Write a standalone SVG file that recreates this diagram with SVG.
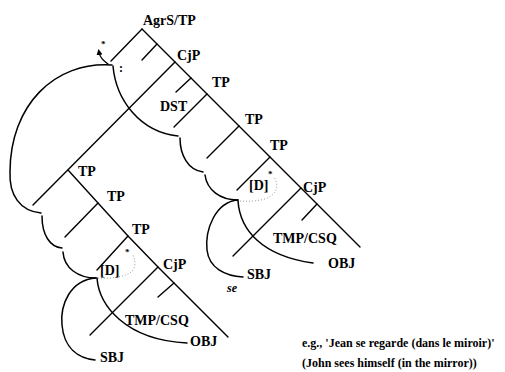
<svg xmlns="http://www.w3.org/2000/svg" width="505" height="372" viewBox="0 0 505 372">
<style>
.ln{stroke:#000;stroke-width:1.4;fill:none;stroke-linecap:round}
.arc{stroke:#000;stroke-width:1.5;fill:none;stroke-linecap:round}
.dot{stroke:#999;stroke-width:1;fill:none;stroke-dasharray:1 2}
.lb{font-family:"Liberation Serif","Times New Roman",serif;font-size:14px;font-weight:bold;fill:#000}
.it{font-family:"Liberation Serif","Times New Roman",serif;font-size:12px;font-style:italic;font-weight:bold;fill:#000}
.st{font-family:"Liberation Serif","Times New Roman",serif;font-size:9px;font-weight:bold;fill:#000}
.co{font-family:"Liberation Serif","Times New Roman",serif;font-size:12px;font-weight:bold;fill:#000}
.cap{font-family:"Liberation Serif","Times New Roman",serif;font-size:12px;font-weight:bold;fill:#000}
</style>
<defs>
<marker id="ah" markerWidth="6" markerHeight="6" refX="3" refY="3" orient="auto" markerUnits="userSpaceOnUse">
<path d="M0,0 L6,3 L0,6 Z" fill="#000"/>
</marker>
</defs>
<rect width="505" height="372" fill="#fff"/>
<g id="connectors">
<line class="ln" x1="142" y1="29" x2="360" y2="247"/>
<line class="ln" x1="142" y1="29" x2="111" y2="61"/>
<line class="ln" x1="157" y1="44" x2="142" y2="60"/>
<line class="ln" x1="175" y1="62" x2="33" y2="205"/>
<line class="ln" x1="191" y1="78" x2="176" y2="92"/>
<line class="ln" x1="207" y1="94" x2="174" y2="127"/>
<line class="ln" x1="239" y1="126" x2="207" y2="158"/>
<line class="ln" x1="270" y1="157" x2="237" y2="190"/>
<line class="ln" x1="301" y1="188" x2="233" y2="256"/>
<line class="ln" x1="317" y1="204" x2="302" y2="220"/>
<polyline class="ln" points="68,170 98,203 128,236 158,267 228,337"/>
<line class="ln" x1="98" y1="203" x2="65" y2="237"/>
<line class="ln" x1="128" y1="236" x2="97" y2="270"/>
<line class="ln" x1="158" y1="267" x2="90" y2="335"/>
<line class="ln" x1="174" y1="283" x2="158" y2="297"/>
<path class="arc" d="M112,65 C55,61 10,105 10,172 C9,195 20,211 41,213"/>
<path class="arc" d="M42,216 C42,235 50,247 62,248"/>
<path class="arc" d="M63,252 C64,268 78,278 96,278"/>
<path class="arc" d="M113,66 C116,100 140,132 178,136"/>
<path class="arc" d="M180,138 C180,155 188,170 203,172"/>
<path class="arc" d="M205,175 C207,190 220,200 238,200"/>
<path class="arc" d="M238,200 C215,202 205,230 207,250 C209,268 225,276 243,277"/>
<path class="arc" d="M238,201 C240,230 262,256 313,263"/>
<path class="arc" d="M96,278 C70,280 60,305 62,325 C64,348 78,358 95,360"/>
<path class="arc" d="M97,278 C99,305 125,340 187,343"/>
<path class="dot" d="M240,201 C255,202 272,200 276,190 C278,185 276,180 274,177"/>
<path class="dot" d="M98,278 C110,279 128,277 133,270 C136,265 135,260 133,255"/>
<path class="ln" d="M108,64 C104,61 100,58 99,52" marker-end="url(#ah)"/>
</g>
<g id="n-root"><text class="lb" x="143" y="25">AgrS/TP</text>
<text class="st" x="101" y="47">*</text>
<text class="co" x="119" y="72">:</text></g>
<g id="n-cjp1"><text class="lb" x="177" y="60">CjP</text></g>
<g id="n-tp1"><text class="lb" x="212" y="87">TP</text></g>
<g id="n-dst"><text class="lb" x="160" y="111">DST</text></g>
<g id="n-tp2"><text class="lb" x="245" y="124">TP</text></g>
<g id="n-tp3"><text class="lb" x="270" y="150">TP</text></g>
<g id="n-d1"><text class="lb" x="249" y="190">[D]</text><text class="st" x="268" y="177">*</text></g>
<g id="n-cjp2"><text class="lb" x="303" y="192">CjP</text></g>
<g id="n-tmp1"><text class="lb" x="273" y="243">TMP/CSQ</text></g>
<g id="n-obj1"><text class="lb" x="328" y="268">OBJ</text></g>
<g id="n-sbj1"><text class="lb" x="247" y="279">SBJ</text><text class="it" x="227" y="292">se</text></g>
<g id="n-tpL0"><text class="lb" x="78" y="176">TP</text></g>
<g id="n-tpL1"><text class="lb" x="107" y="201">TP</text></g>
<g id="n-tpL2"><text class="lb" x="132" y="234">TP</text></g>
<g id="n-d2"><text class="lb" x="100" y="275">[D]</text><text class="st" x="125" y="255">*</text></g>
<g id="n-cjpL"><text class="lb" x="163" y="269">CjP</text></g>
<g id="n-tmp2"><text class="lb" x="125" y="325">TMP/CSQ</text></g>
<g id="n-obj2"><text class="lb" x="190" y="346">OBJ</text></g>
<g id="n-sbj2"><text class="lb" x="100" y="362">SBJ</text></g>
<g id="caption">
<text class="cap" x="302" y="347">e.g., 'Jean se regarde (dans le miroir)'</text>
<text class="cap" x="302" y="367">(John sees himself (in the mirror))</text>
</g>
</svg>
